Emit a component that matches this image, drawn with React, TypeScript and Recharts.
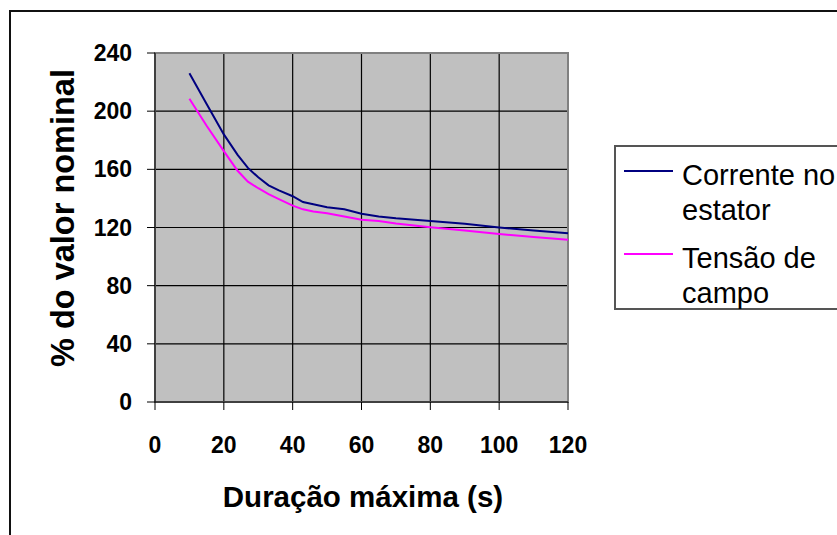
import React from 'react';
import { LineChart, Line, XAxis, YAxis, CartesianGrid, Legend, ReferenceArea } from 'recharts';

const durations = [10, 15, 20, 24, 27, 30, 33, 36, 40, 43, 46, 50, 55, 60, 65, 70, 80, 90, 100, 110, 120];
const correnteEstator = [226, 205, 184, 170, 161, 154.5, 149, 145.5, 141.5, 137.5, 136, 134, 132.5, 129.5, 127.5, 126.3, 124.5, 122.5, 120, 118, 116];
const tensaoCampo = [208.5, 190, 172.5, 159, 151.5, 147, 143, 139.5, 135, 132.5, 131, 129.8, 127.5, 125.3, 124.5, 122.8, 120.2, 118, 115.5, 113.5, 111.5];
const xTicks = [0, 20, 40, 60, 80, 100, 120];
const yTicks = [0, 40, 80, 120, 160, 200, 240];
const seriesNames = ['Corrente no estator', 'Tensão de campo'];
const seriesColors = ['#000080', '#FF00FF'];
const xTitle = 'Duração máxima (s)';
const yTitle = '% do valor nominal';

const data = durations.map((d, i) => ({ d, a: correnteEstator[i], b: tensaoCampo[i] }));

const FONT = 'Arial, "Liberation Sans", sans-serif';

const renderLegend = () => (
  <div
    style={{
      position: 'relative',
      width: 260,
      height: 165,
      border: '2px solid #555',
      boxSizing: 'border-box',
      background: '#fff',
      fontFamily: FONT,
      fontSize: 29,
      lineHeight: '35px',
      color: '#000',
    }}
  >
    {seriesNames.map((name, i) => (
      <React.Fragment key={name}>
        <div style={{ position: 'absolute', left: 8, top: [23, 106][i], width: 49, height: 2, background: seriesColors[i] }} />
        <div style={{ position: 'absolute', left: 66, top: [10.5, 93.8][i], width: 165 }}>{name}</div>
      </React.Fragment>
    ))}
  </div>
);

export default function App() {
  const tickStyle = { fill: '#000', fontSize: 23, fontWeight: 'bold' as const, fontFamily: FONT };
  return (
    <div style={{ position: 'absolute', left: 0, top: 0, width: 837, height: 535, overflow: 'hidden', background: '#fff' }}>
      <div
        style={{
          position: 'absolute',
          left: 9,
          top: 10,
          width: 900,
          height: 600,
          border: '2px solid #111',
          boxSizing: 'border-box',
        }}
      />
      <div style={{ position: 'absolute', left: 0, top: 0 }}>
        <LineChart width={837} height={535} data={data} margin={{ top: 53, right: 269, bottom: 73, left: 95 }}>
          <CartesianGrid stroke="#000" strokeWidth={1.2} fill="#c0c0c0" fillOpacity={1} />
          <ReferenceArea x1={0} x2={120} y1={0} y2={240} fill="none" fillOpacity={0} stroke="#808080" strokeWidth={2} isAnimationActive={false} />
          <XAxis
            type="number"
            dataKey="d"
            domain={[0, 120]}
            ticks={xTicks}
            height={60}
            tickSize={8}
            tickMargin={27}
            tick={tickStyle}
            axisLine={{ stroke: '#000', strokeWidth: 1 }}
            tickLine={{ stroke: '#000' }}
            interval={0}
          />
          <YAxis
            type="number"
            domain={[0, 240]}
            ticks={yTicks}
            width={60}
            tickSize={8}
            tickMargin={15}
            tick={tickStyle}
            axisLine={{ stroke: '#000', strokeWidth: 1 }}
            tickLine={{ stroke: '#000' }}
            interval={0}
          />
          <Legend
            layout="vertical"
            align="center"
            verticalAlign="middle"
            content={renderLegend}
            wrapperStyle={{ left: 614, top: 145, width: 260, height: 165 }}
          />
          <Line type="linear" dataKey="a" name={seriesNames[0]} stroke={seriesColors[0]} strokeWidth={2} dot={false} isAnimationActive={false} />
          <Line type="linear" dataKey="b" name={seriesNames[1]} stroke={seriesColors[1]} strokeWidth={2} dot={false} isAnimationActive={false} />
          <text x={363} y={507} textAnchor="middle" fontFamily={FONT} fontSize={29.5} fontWeight="bold" fill="#000">
            {xTitle}
          </text>
          <text
            x={62.5}
            y={218}
            dy="0.36em"
            textAnchor="middle"
            fontFamily={FONT}
            fontSize={32.5}
            fontWeight="bold"
            fill="#000"
            transform="rotate(-90, 62.5, 218)"
          >
            {yTitle}
          </text>
        </LineChart>
      </div>
    </div>
  );
}
